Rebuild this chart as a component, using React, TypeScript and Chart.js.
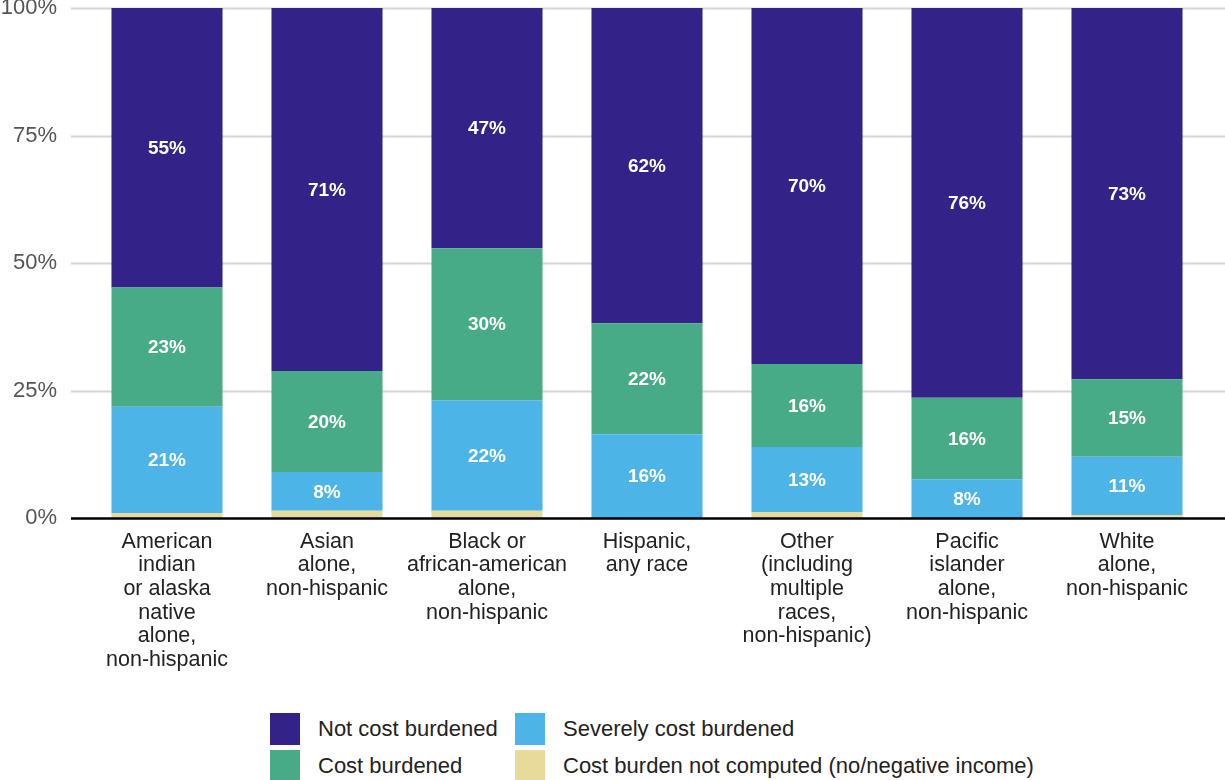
import React, { useEffect, useRef } from 'react';
import { Chart, registerables } from 'chart.js';

Chart.register(...registerables);

const categories: string[][] = [
  ['American', 'indian', 'or alaska', 'native', 'alone,', 'non-hispanic'],
  ['Asian', 'alone,', 'non-hispanic'],
  ['Black or', 'african-american', 'alone,', 'non-hispanic'],
  ['Hispanic,', 'any race'],
  ['Other', '(including', 'multiple', 'races,', 'non-hispanic)'],
  ['Pacific', 'islander', 'alone,', 'non-hispanic'],
  ['White', 'alone,', 'non-hispanic'],
];

const notComputed = [1.0, 1.4, 1.4, 0, 1.2, 0, 0.6];
const severelyBurdened = [20.8, 7.6, 21.7, 16.4, 12.7, 7.6, 11.4];
const costBurdened = [23.4, 19.8, 29.8, 21.8, 16.3, 16.0, 15.2];
const notBurdened = [54.8, 71.2, 47.1, 61.8, 69.8, 76.4, 72.8];

const yTickValues = [0, 25, 50, 75, 100];

const seriesNames = {
  notBurdened: 'Not cost burdened',
  costBurdened: 'Cost burdened',
  severely: 'Severely cost burdened',
  notComputed: 'Cost burden not computed (no/negative income)',
};

const colors = {
  notBurdened: '#332288',
  costBurdened: '#48ab88',
  severely: '#4db4e7',
  notComputed: '#e8da9b',
};

const FONT = "'Liberation Sans', Arial, sans-serif";

const legendItems = [
  { label: seriesNames.notBurdened, color: colors.notBurdened },
  { label: seriesNames.severely, color: colors.severely },
  { label: seriesNames.costBurdened, color: colors.costBurdened },
  { label: seriesNames.notComputed, color: colors.notComputed },
];

const gridPlugin = {
  id: 'customGrid',
  beforeDatasetsDraw(chart: any) {
    const ctx = chart.ctx;
    const y = chart.scales.y;
    ctx.save();
    ctx.strokeStyle = '#d4d4d4';
    ctx.lineWidth = 2;
    yTickValues.forEach((v) => {
      if (v === 0) return;
      const py = Math.round(y.getPixelForValue(v)) + 0.5;
      ctx.beginPath();
      ctx.moveTo(71, py);
      ctx.lineTo(chart.width, py);
      ctx.stroke();
    });
    ctx.restore();
  },
  afterDatasetsDraw(chart: any) {
    const ctx = chart.ctx;
    const y = chart.scales.y;
    ctx.save();
    const py = y.getPixelForValue(0);
    ctx.strokeStyle = '#000000';
    ctx.lineWidth = 2.5;
    ctx.beginPath();
    ctx.moveTo(71, py + 0.5);
    ctx.lineTo(chart.width, py + 0.5);
    ctx.stroke();
    ctx.fillStyle = '#ffffff';
    ctx.font = `bold 19px ${FONT}`;
    ctx.textAlign = 'center';
    ctx.textBaseline = 'middle';
    chart.data.datasets.forEach((ds: any, di: number) => {
      if (ds.noLabel) return;
      const meta = chart.getDatasetMeta(di);
      meta.data.forEach((bar: any, i: number) => {
        const v = ds.data[i];
        if (!v) return;
        const cy = (bar.y + bar.base) / 2;
        ctx.fillText(Math.round(v) + '%', bar.x, cy + 1);
      });
    });
    ctx.restore();
  },
};

export default function App() {
  const canvasRef = useRef<HTMLCanvasElement | null>(null);

  useEffect(() => {
    document.body.style.margin = '0';
    const canvas = canvasRef.current;
    if (!canvas) return;
    const chart = new Chart(canvas, {
      type: 'bar',
      data: {
        labels: categories,
        datasets: [
          { label: seriesNames.notComputed, data: notComputed, backgroundColor: colors.notComputed, noLabel: true } as any,
          { label: seriesNames.severely, data: severelyBurdened, backgroundColor: colors.severely },
          { label: seriesNames.costBurdened, data: costBurdened, backgroundColor: colors.costBurdened },
          { label: seriesNames.notBurdened, data: notBurdened, backgroundColor: colors.notBurdened },
        ],
      },
      options: {
        responsive: false,
        animation: false,
        devicePixelRatio: 1,
        layout: { padding: { top: 8, right: 18, left: 0, bottom: 0 } },
        datasets: { bar: { categoryPercentage: 1, barPercentage: 0.694 } },
        plugins: {
          legend: { display: false },
          tooltip: { enabled: false },
        },
        scales: {
          x: {
            stacked: true,
            grid: { display: false, drawTicks: false },
            border: { display: false },
            ticks: {
              autoSkip: false,
              maxRotation: 0,
              minRotation: 0,
              padding: 12,
              color: '#222222',
              font: { family: FONT, size: 21.5, lineHeight: 1.1 },
            },
            afterFit(scale: any) {
              scale.height = 182;
              scale.paddingLeft = 0;
              scale.paddingRight = 0;
            },
          },
          y: {
            stacked: true,
            min: 0,
            max: 100,
            grid: { display: false, drawTicks: false },
            border: { display: false },
            ticks: {
              stepSize: 25,
              padding: 30,
              color: '#555555',
              font: { family: FONT, size: 22, lineHeight: 1 },
              callback: (v: any) => v + '%',
            },
            afterBuildTicks(scale: any) {
              scale.ticks = yTickValues.map((v) => ({ value: v }));
            },
            afterFit(scale: any) {
              scale.width = 87;
              scale.paddingTop = 0;
              scale.paddingBottom = 0;
            },
          },
        },
      } as any,
      plugins: [gridPlugin],
    });
    return () => chart.destroy();
  }, []);

  return (
    <div style={{ position: 'relative', width: 1225, height: 780, overflow: 'hidden', background: '#fff' }}>
      <canvas ref={canvasRef} width={1225} height={700} style={{ display: 'block', width: 1225, height: 700 }} />
      <div
        style={{
          position: 'absolute',
          left: 270,
          top: 713,
          display: 'grid',
          gridTemplateColumns: '245px auto',
          rowGap: 5,
          fontFamily: FONT,
          fontSize: 22,
          color: '#222222',
        }}
      >
        {legendItems.map((it) => (
          <div key={it.label} style={{ display: 'flex', alignItems: 'center', height: 32 }}>
            <span style={{ display: 'inline-block', width: 30, height: 32, background: it.color, marginRight: 18 }} />
            <span style={{ whiteSpace: 'nowrap' }}>{it.label}</span>
          </div>
        ))}
      </div>
    </div>
  );
}
